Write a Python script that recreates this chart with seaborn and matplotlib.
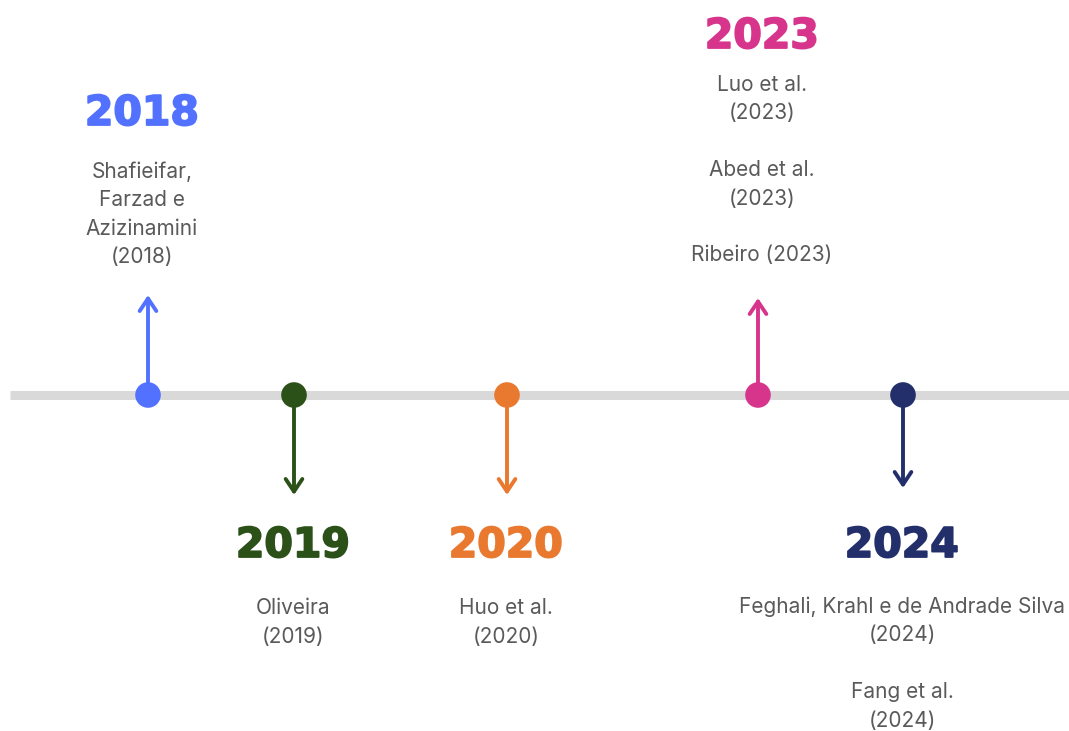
import matplotlib
matplotlib.use("Agg")
import matplotlib.pyplot as plt
import matplotlib.patheffects as pe
import seaborn as sns
import pandas as pd

# ---- data ----
years = ["2018", "2019", "2020", "2023", "2024"]
colors = ["#5271ff", "#2b5118", "#e8792f", "#d7358b", "#222f6b"]
directions = ["up", "down", "down", "up", "down"]
references = [
    ["Shafieifar,\nFarzad e\nAzizinamini\n(2018)"],
    ["Oliveira\n(2019)"],
    ["Huo et al.\n(2020)"],
    ["Luo et al.\n(2023)", "Abed et al.\n(2023)", "Ribeiro (2023)"],
    ["Feghali, Krahl e de Andrade Silva\n(2024)", "Fang et al.\n(2024)"],
]

# ---- layout (pixel space) ----
W, H = 1069, 731
x_pos = [148, 294, 507, 758, 903]
text_x = [142, 293, 506, 762, 902]
year_y = [114, 546, 546, 37, 546]
ref_y0 = [172, 608, 608, 85, 607]
arrow_end = [295, 495, 495, 298, 488]
line_y = 395
line_step = 28.5
ref_step = 85

sns.set_theme(style="white")
plt.rcParams["font.family"] = ["Inter", "DejaVu Sans"]

fig = plt.figure(figsize=(W / 100, H / 100), dpi=100)
ax = fig.add_axes([0, 0, 1, 1])
ax.set_xlim(0, W)
ax.set_ylim(H, 0)
ax.axis("off")

# timeline
tl = pd.DataFrame({"x": [10, W], "y": [line_y, line_y]})
sns.lineplot(data=tl, x="x", y="y", ax=ax, color="#d9d9d9", lw=6.5,
             solid_capstyle="butt", legend=False, zorder=1)

# arrows
for xp, ye, c in zip(x_pos, arrow_end, colors):
    ax.annotate("", xy=(xp, ye), xytext=(xp, line_y),
                arrowprops=dict(arrowstyle="->,head_length=0.45,head_width=0.3",
                                color=c, lw=2.8, mutation_scale=20,
                                shrinkA=0, shrinkB=0, capstyle="round",
                                joinstyle="round"),
                zorder=2)

# dots
df = pd.DataFrame({"x": x_pos, "y": [line_y] * len(x_pos), "year": years})
sns.scatterplot(data=df, x="x", y="y", hue="year", palette=colors, s=340,
                edgecolor="none", legend=False, ax=ax, zorder=3)

# year labels and references
for i, yr in enumerate(years):
    ax.text(text_x[i], year_y[i], yr, ha="center", va="center",
            fontsize=29.5, fontweight="bold", color=colors[i],
            family=["DejaVu Sans"],
            path_effects=[pe.withStroke(linewidth=1.3, foreground=colors[i])])
    for j, ref in enumerate(references[i]):
        for k, ln in enumerate(ref.split("\n")):
            ax.text(text_x[i], ref_y0[i] + j * ref_step + k * line_step, ln,
                    ha="center", va="center", fontsize=15, color="#5a5a5a")

fig.savefig("out.png", dpi=100)
